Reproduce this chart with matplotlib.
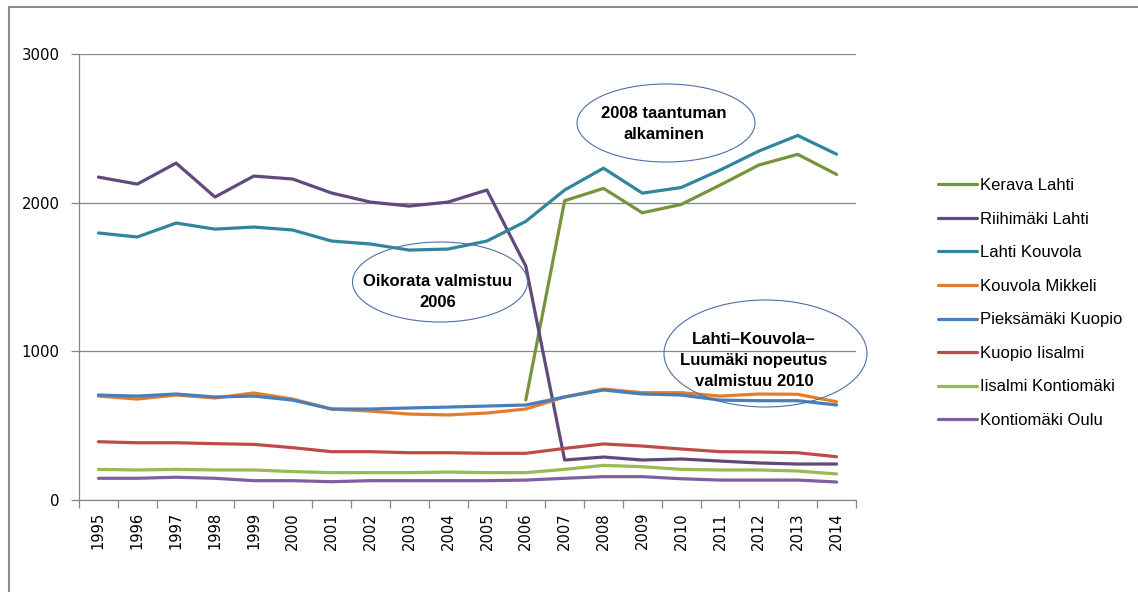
import matplotlib.pyplot as plt
from matplotlib.patches import Ellipse
from matplotlib.lines import Line2D

plt.rcParams['font.family'] = ['Liberation Sans', 'DejaVu Sans']

years = list(range(1995, 2015))

kerava_lahti = [None] * 11 + [672, 2013, 2096, 1932, 1988, 2118, 2253, 2325, 2190]
riihimaki_lahti = [2172, 2125, 2266, 2038, 2179, 2159, 2065, 2004, 1977, 2004,
                   2085, 1574, 269, 289, 269, 276, 262, 249, 242, 242]
lahti_kouvola = [1796, 1769, 1863, 1822, 1836, 1816, 1742, 1722, 1681, 1688,
                 1742, 1874, 2085, 2232, 2064, 2102, 2219, 2347, 2452, 2326]
kouvola_mikkeli = [699, 679, 706, 686, 720, 679, 612, 598, 578, 572,
                   585, 612, 693, 746, 722, 722, 699, 713, 711, 661]
pieksamaki_kuopio = [706, 699, 713, 693, 699, 672, 612, 612, 619, 625,
                     632, 639, 693, 740, 713, 706, 672, 668, 668, 639]
kuopio_iisalmi = [392, 385, 385, 379, 374, 352, 325, 325, 318, 318,
                  314, 314, 347, 377, 363, 343, 325, 323, 318, 291]
iisalmi_kontiomaki = [206, 202, 206, 202, 202, 191, 184, 184, 184, 188,
                      184, 184, 206, 233, 224, 206, 202, 202, 195, 175]
kontiomaki_oulu = [146, 146, 153, 146, 130, 130, 123, 130, 130, 130,
                   130, 134, 146, 157, 157, 143, 134, 134, 134, 121]

series = [
    ('Kerava Lahti', kerava_lahti, '#77933C'),
    ('Riihimäki Lahti', riihimaki_lahti, '#604A7B'),
    ('Lahti Kouvola', lahti_kouvola, '#31859C'),
    ('Kouvola Mikkeli', kouvola_mikkeli, '#E37D2B'),
    ('Pieksämäki Kuopio', pieksamaki_kuopio, '#4A7EBB'),
    ('Kuopio Iisalmi', kuopio_iisalmi, '#BE4B48'),
    ('Iisalmi Kontiomäki', iisalmi_kontiomaki, '#98B954'),
    ('Kontiomäki Oulu', kontiomaki_oulu, '#7D60A0'),
]

notes = [
    ('2008 taantuman\nalkaminen', (664, 124), (666, 123, 178, 78)),
    ('Oikorata valmistuu\n2006', (438, 292), (440, 282, 175, 80)),
    ('Lahti–Kouvola–\nLuumäki nopeutus\nvalmistuu 2010', (754, 361), (765.5, 353.5, 203, 107)),
]

W, H = 1138, 592
fig = plt.figure(figsize=(W / 100, H / 100), dpi=100)
ax = fig.add_axes([79 / W, 1 - 500 / H, (856 - 79) / W, (500 - 54) / H])

grid_color = '#868686'
xs = list(range(len(years)))
for name, vals, color in series:
    px = [x for x, v in zip(xs, vals) if v is not None]
    py = [v for v in vals if v is not None]
    ax.plot(px, py, color=color, lw=2.3, label=name, solid_capstyle='round')

ax.set_xlim(-0.5, len(years) - 0.5)
ax.set_ylim(0, 3000)
ax.set_yticks([0, 1000, 2000, 3000])
ax.yaxis.grid(True, color=grid_color, lw=0.9)
ax.set_axisbelow(True)

ax.set_xticks(xs)
ax.set_xticklabels([str(y) for y in years], rotation=90, family='DejaVu Sans')
ax.set_yticklabels(['0', '1000', '2000', '3000'], family='DejaVu Sans')
ax.set_xticks([x - 0.5 for x in range(len(years) + 1)], minor=True)
ax.tick_params(axis='x', which='major', length=0, pad=8.6, labelsize=10.6)
ax.tick_params(axis='x', which='minor', length=6, color=grid_color, width=0.9)
ax.tick_params(axis='y', length=6, color=grid_color, width=0.9, labelsize=10.7, pad=8)

for s in ['top', 'right']:
    ax.spines[s].set_visible(False)
for s in ['left', 'bottom']:
    ax.spines[s].set_color(grid_color)
    ax.spines[s].set_linewidth(0.9)

for text, (tx, ty), (ex, ey, ew, eh) in notes:
    fig.patches.append(Ellipse((ex / W, 1 - ey / H), ew / W, eh / H,
                               transform=fig.transFigure, fill=False,
                               edgecolor='#4F6FA8', lw=0.8))
    fig.text(tx / W, 1 - ty / H, text, ha='center', va='center',
             fontsize=12, fontweight='bold', linespacing=1.5)

ax.legend(loc='upper left', bbox_to_anchor=(930 / W, 1 - 170 / H),
          bbox_transform=fig.transFigure, frameon=False, fontsize=12,
          handlelength=2.3, handletextpad=0.2, labelspacing=1.11, borderpad=0)

# outer frame of the pasted chart
fig.add_artist(Line2D([8.5 / W, 1], [1 - 6.5 / H, 1 - 6.5 / H],
                      transform=fig.transFigure, color='#8c8c8c', lw=1.5))
fig.add_artist(Line2D([8.5 / W, 8.5 / W], [0, 1 - 6.5 / H],
                      transform=fig.transFigure, color='#8c8c8c', lw=1.5))

fig.savefig('out.png', dpi=100)
